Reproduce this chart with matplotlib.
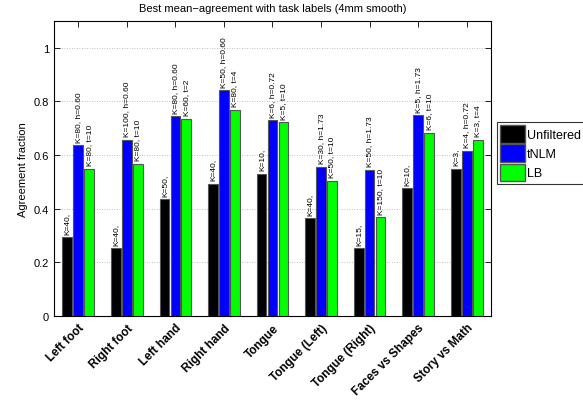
import numpy as np
import matplotlib
matplotlib.use("Agg")
import matplotlib.pyplot as plt
from matplotlib.patches import Patch

plt.rcParams['font.family'] = ['Liberation Sans', 'DejaVu Sans']

tasks = ["Left foot", "Right foot", "Left hand", "Right hand", "Tongue",
         "Tongue (Left)", "Tongue (Right)", "Faces vs Shapes", "Story vs Math"]
unfiltered = [0.295, 0.254, 0.437, 0.494, 0.531, 0.366, 0.254, 0.478, 0.550]
tnlm = [0.636, 0.658, 0.744, 0.841, 0.729, 0.557, 0.546, 0.748, 0.617]
lb = [0.550, 0.568, 0.736, 0.770, 0.722, 0.505, 0.370, 0.684, 0.658]

unf_labels = ["K=40,", "K=40,", "K=50,", "K=40,", "K=10,", "K=40,", "K=15,", "K=10,", "K=3,"]
tnlm_labels = ["K=80, h=0.60", "K=100, h=0.60", "K=80, h=0.60", "K=50, h=0.60",
               "K=6, h=0.72", "K=30, h=1.73", "K=50, h=1.73", "K=5, h=1.73", "K=4, h=0.72"]
lb_labels = ["K=80, t=10", "K=80, t=10", "K=60, t=2", "K=80, t=4", "K=5, t=10",
             "K=50, t=10", "K=150, t=10", "K=6, t=10", "K=3, t=4"]

series = [("Unfiltered", unfiltered, unf_labels, "#000000"),
          ("tNLM", tnlm, tnlm_labels, "#0000ff"),
          ("LB", lb, lb_labels, "#00ff00")]

fig = plt.figure(figsize=(5.83, 4.06), dpi=100)
ax = fig.add_axes([54 / 583, 1 - 317 / 406, 437 / 583, 295 / 406])

x = np.arange(1, len(tasks) + 1)
offsets = [-0.225, 0.0, 0.225]
width = 0.2
for (name, vals, labs, col), off in zip(series, offsets):
    ax.bar(x + off, vals, width, color=col, edgecolor="#555555",
           linewidth=0.8, label=name, zorder=3)
    for xi, v, t in zip(x + off, vals, labs):
        ax.text(xi, v + 0.012, t, rotation=90, ha="center", va="bottom",
                fontsize=6, zorder=4)

ax.set_xlim(0.5, 9.5)
ax.set_ylim(0, 1.1)
ax.set_yticks([0, 0.2, 0.4, 0.6, 0.8, 1.0])
ax.set_yticklabels(["0", "0.2", "0.4", "0.6", "0.8", "1"], fontsize=8)
ax.set_xticks(x)
ax.set_xticklabels(tasks, rotation=45, ha="right", rotation_mode="anchor",
                   fontsize=8.5, fontweight="bold")
ax.tick_params(axis="both", direction="in", length=4, width=0.6,
               top=True, right=True)
ax.tick_params(axis="x", pad=4)
ax.grid(axis="y", linestyle=(0, (1, 2)), color="#aaaaaa", linewidth=0.6, zorder=0)
ax.set_axisbelow(True)
for sp in ax.spines.values():
    sp.set_linewidth(0.8)

ax.set_ylabel("Agreement fraction", fontsize=8)
ax.set_title("Best mean\u2212agreement with task labels (4mm smooth)", fontsize=8, pad=7)

handles = [Patch(facecolor=c, edgecolor="#555555", label=n) for n, _, _, c in series]
leg = fig.legend(handles=handles, loc="upper left",
                 bbox_to_anchor=(497 / 583, 1 - 123 / 406), fontsize=9,
                 frameon=True, fancybox=False, edgecolor="black",
                 handlelength=2.0, handleheight=1.8, handletextpad=0.15,
                 labelspacing=0.12, borderpad=0.25, borderaxespad=0)
leg.get_frame().set_linewidth(0.8)

fig.savefig("out.png", dpi=100)
